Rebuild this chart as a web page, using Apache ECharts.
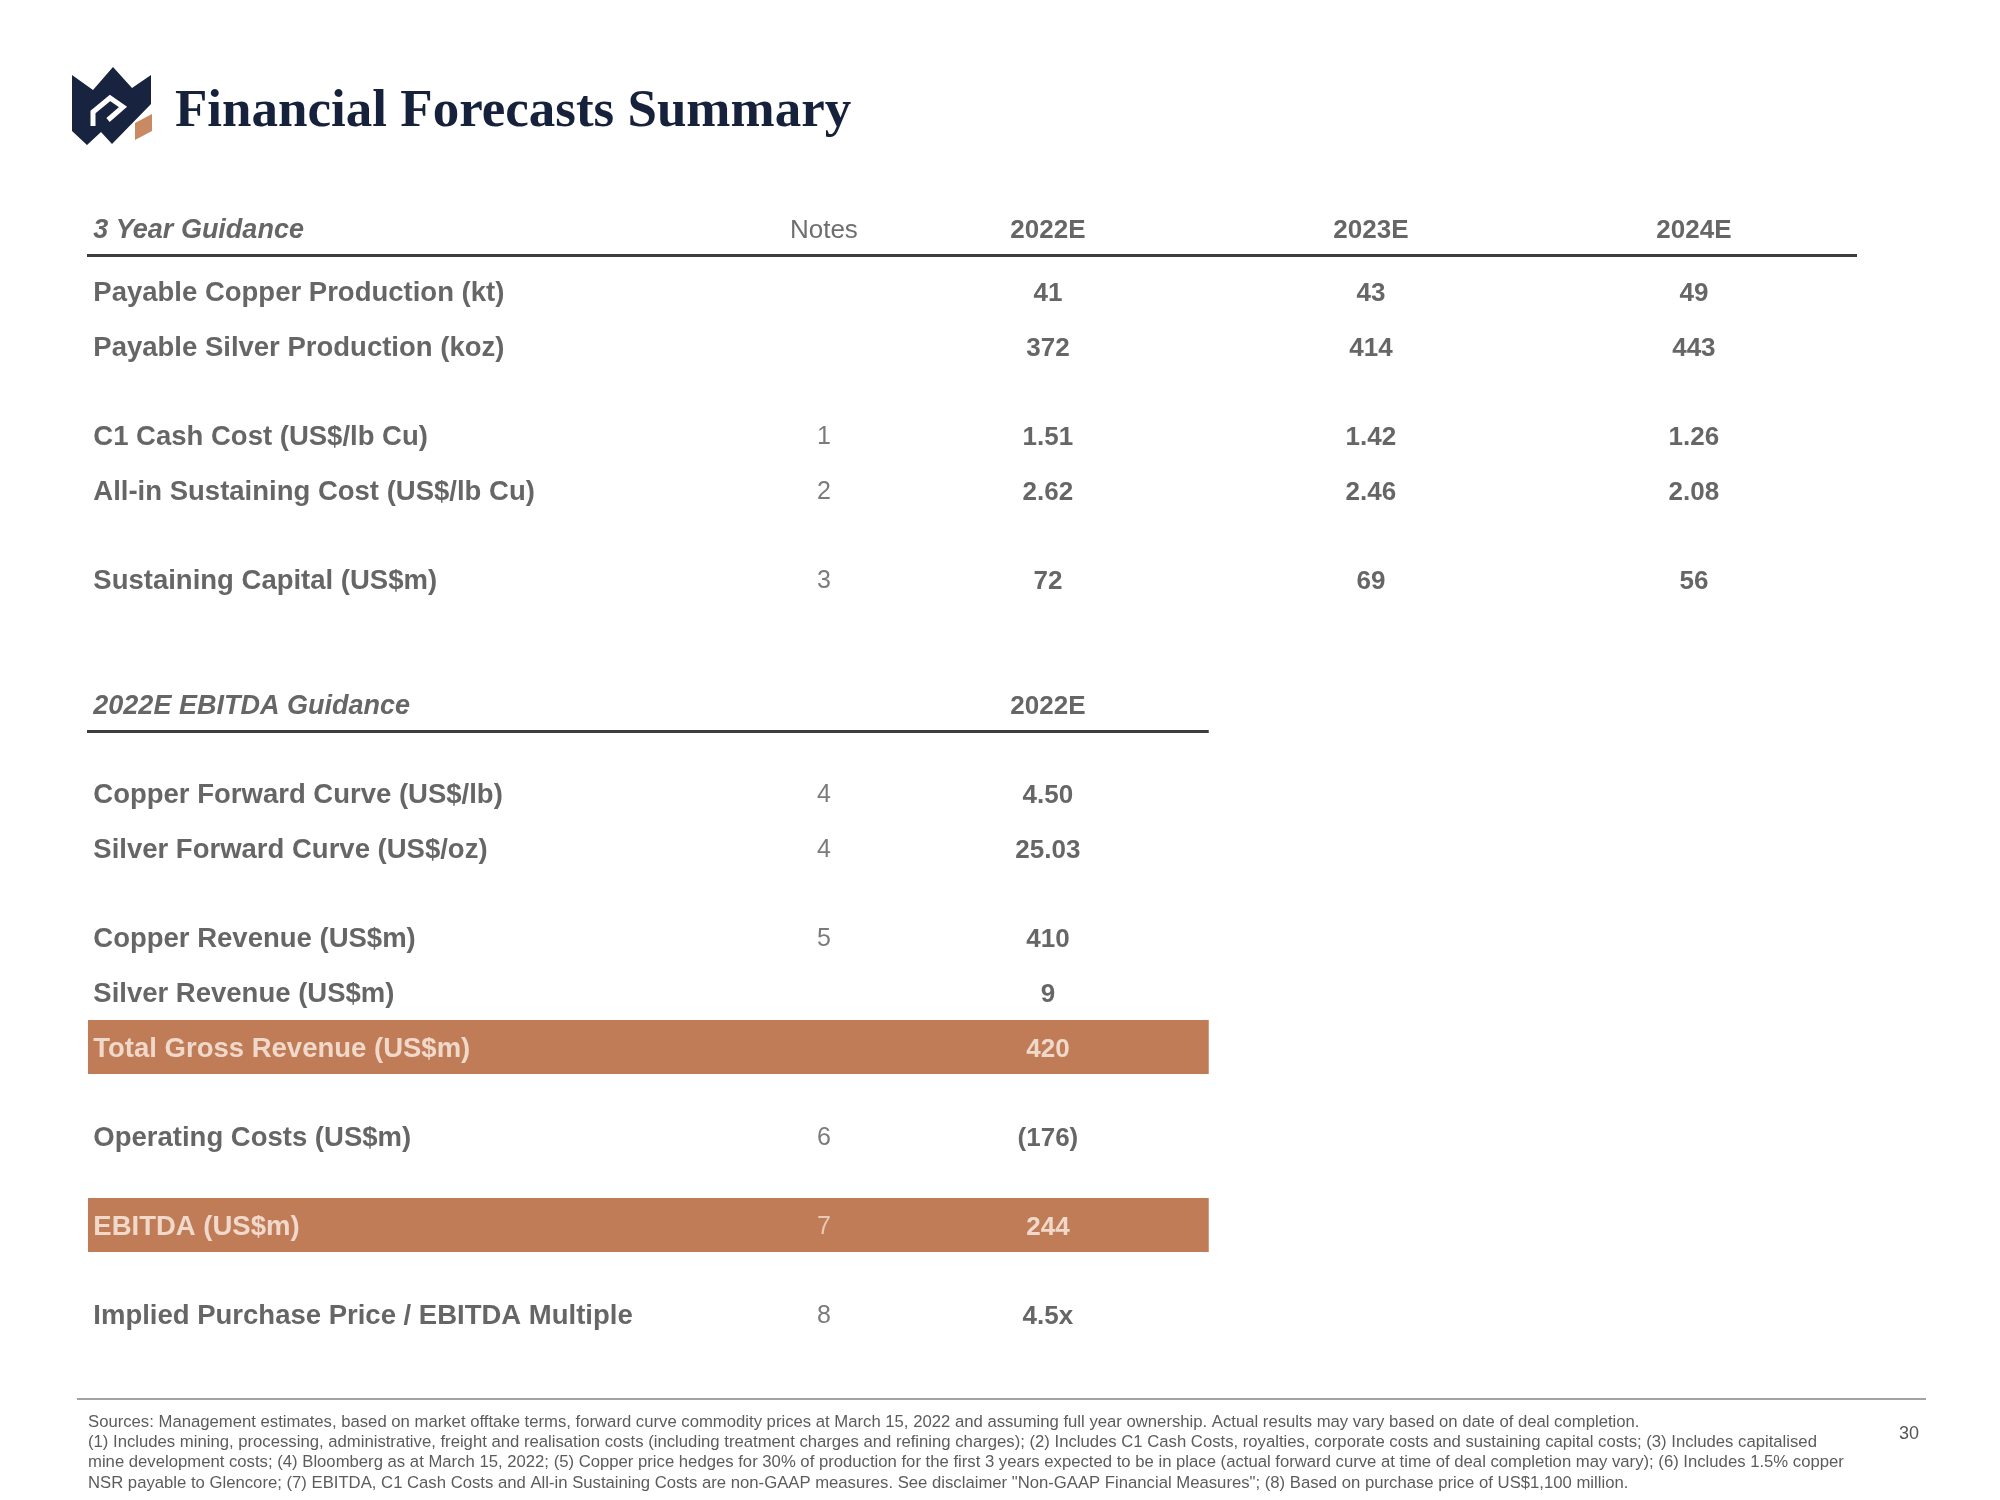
<!DOCTYPE html>
<html>
<head>
<meta charset="utf-8">
<style>
  html, body { margin: 0; padding: 0; background: #ffffff; }
  #chart { width: 2000px; height: 1500px; }
</style>
<script src="https://cdn.jsdelivr.net/npm/echarts@6/dist/echarts.min.js"></script>
</head>
<body>
<div id="chart"></div>
<script>
// ---------------- DATA ----------------
const pageTitle = 'Financial Forecasts Summary';
const years = ['2022E', '2023E', '2024E'];
const notesHeader = 'Notes';

const guidanceTitle = '3 Year Guidance';
const guidanceRows = [
  'Payable Copper Production (kt)',
  'Payable Silver Production (koz)',
  'C1 Cash Cost (US$/lb Cu)',
  'All-in Sustaining Cost (US$/lb Cu)',
  'Sustaining Capital (US$m)'
];
const guidanceNotes = ['', '', '1', '2', '3'];
const guidance2022E = [41, 372, 1.51, 2.62, 72];
const guidance2023E = [43, 414, 1.42, 2.46, 69];
const guidance2024E = [49, 443, 1.26, 2.08, 56];
const guidanceFormat = ['int', 'int', 'dec2', 'dec2', 'int'];
const guidanceGroups = [[0, 1], [2, 3], [4]];

const ebitdaTitle = '2022E EBITDA Guidance';
const ebitdaYear = ['2022E'];
const ebitdaRows = [
  'Copper Forward Curve (US$/lb)',
  'Silver Forward Curve (US$/oz)',
  'Copper Revenue (US$m)',
  'Silver Revenue (US$m)',
  'Total Gross Revenue (US$m)',
  'Operating Costs (US$m)',
  'EBITDA (US$m)',
  'Implied Purchase Price / EBITDA Multiple'
];
const ebitdaNotes = ['4', '4', '5', '', '', '6', '7', '8'];
const ebitda2022E = [4.50, 25.03, 410, 9, 420, -176, 244, 4.5];
const ebitdaFormat = ['dec2', 'dec2', 'int', 'int', 'int', 'paren', 'int', 'multiple'];
const ebitdaGroups = [[0, 1], [2, 3, 4], [5], [6], [7]];
const highlightRows = ['Total Gross Revenue (US$m)', 'EBITDA (US$m)'];

const footnotes = [
  'Sources: Management estimates, based on market offtake terms, forward curve commodity prices at March 15, 2022 and assuming full year ownership. Actual results may vary based on date of deal completion.',
  '(1) Includes mining, processing, administrative, freight and realisation costs (including treatment charges and refining charges); (2) Includes C1 Cash Costs, royalties, corporate costs and sustaining capital costs; (3) Includes capitalised',
  'mine development costs; (4) Bloomberg as at March 15, 2022; (5) Copper price hedges for 30% of production for the first 3 years expected to be in place (actual forward curve at time of deal completion may vary); (6) Includes 1.5% copper',
  'NSR payable to Glencore; (7) EBITDA, C1 Cash Costs and All-in Sustaining Costs are non-GAAP measures. See disclaimer "Non-GAAP Financial Measures"; (8) Based on purchase price of US$1,100 million.'
];
const pageNumber = '30';

// ---------------- LAYOUT (axis units: x = one year column, y = one row) ----------------
const L = {
  labelX: -2.957, notesX: -0.6935,
  ruleLeft: -2.975, rule1Right: 2.505, rule2Right: 0.498,
  bandLeft: -2.972, bandRight: 0.498, bandHalf: 0.49,
  t1Header: -1.145, t1Rule: -0.655, t1First: 0,
  t2Header: 7.51, t2Rule: 8.0, t2First: 9.127,
  gap: 1.618
};
function rowPositions(groups, start) {
  const pos = []; let y = start;
  groups.forEach((g, gi) => {
    g.forEach((r, ri) => {
      if (gi > 0 && ri === 0) y += L.gap;
      else if (ri > 0) y += 1;
      pos[r] = y;
    });
  });
  return pos;
}
const t1Y = rowPositions(guidanceGroups, L.t1First);
const t2Y = rowPositions(ebitdaGroups, L.t2First);

function fmt(v, kind) {
  if (kind === 'dec2') return v.toFixed(2);
  if (kind === 'paren') return v < 0 ? '(' + Math.abs(v) + ')' : String(v);
  if (kind === 'multiple') return v.toFixed(1) + 'x';
  return String(v);
}

// ---------------- STYLES ----------------
const DARK = '#404040';
const LIGHT = '#fbf0e7';
const SANS = '"Liberation Sans", Arial, sans-serif';
const TEXT_OFFSET = [0, 2.5];
const labelStyle = { fontFamily: SANS, fontSize: 27.5, fontWeight: 'bold', color: DARK, offset: TEXT_OFFSET };
const valueStyle = { fontFamily: SANS, fontSize: 26, fontWeight: 'bold', color: DARK, offset: TEXT_OFFSET };
const noteStyle = { fontFamily: SANS, fontSize: 25, fontWeight: 'normal', color: '#5a5a5a', offset: TEXT_OFFSET };

const leftItems = [], centerItems = [];
function addLeft(x, y, text, extra) { leftItems.push({ value: [x, y], text, label: Object.assign({}, labelStyle, extra || {}) }); }
function addCenter(x, y, text, style, extra) { centerItems.push({ value: [x, y], text, label: Object.assign({}, style, extra || {}) }); }

// Table 1 header
addLeft(L.labelX, L.t1Header, guidanceTitle, { fontStyle: 'italic', fontSize: 27 });
addCenter(L.notesX, L.t1Header, notesHeader, { fontFamily: SANS, fontSize: 26, color: '#4a4a4a', offset: TEXT_OFFSET });
years.forEach((yr, i) => addCenter(i, L.t1Header, yr, valueStyle));
// Table 1 body
const guidanceCols = [guidance2022E, guidance2023E, guidance2024E];
guidanceRows.forEach((name, r) => {
  addLeft(L.labelX, t1Y[r], name);
  if (guidanceNotes[r]) addCenter(L.notesX, t1Y[r], guidanceNotes[r], noteStyle);
  guidanceCols.forEach((col, c) => addCenter(c, t1Y[r], fmt(col[r], guidanceFormat[r]), valueStyle));
});
// Table 2 header
addLeft(L.labelX, L.t2Header, ebitdaTitle, { fontStyle: 'italic', fontSize: 27 });
ebitdaYear.forEach((yr, i) => addCenter(i, L.t2Header, yr, valueStyle));
// Table 2 body
ebitdaRows.forEach((name, r) => {
  const hl = highlightRows.indexOf(name) >= 0;
  addLeft(L.labelX, t2Y[r], name, hl ? { color: LIGHT } : null);
  if (ebitdaNotes[r]) addCenter(L.notesX, t2Y[r], ebitdaNotes[r], noteStyle, hl ? { color: '#f1dccd' } : null);
  addCenter(0, t2Y[r], fmt(ebitda2022E[r], ebitdaFormat[r]), valueStyle, hl ? { color: LIGHT } : null);
});

const bands = ebitdaRows.map((n, r) => highlightRows.indexOf(n) >= 0 ? r : -1).filter(r => r >= 0)
  .map(r => [{ coord: [L.bandLeft, t2Y[r] - L.bandHalf] }, { coord: [L.bandRight, t2Y[r] + L.bandHalf] }]);

const ruleStyle = { color: '#3d3d3d', width: 3, type: 'solid' };

const chart = echarts.init(document.getElementById('chart'), null, { renderer: 'canvas' });
chart.setOption({
  backgroundColor: '#ffffff',
  animation: false,
  grid: { left: 87, right: 143, top: 181, bottom: 109 },
  xAxis: { type: 'value', min: -2.975, max: 2.505, show: false },
  yAxis: { type: 'value', min: -2, max: 20, inverse: true, show: false },
  graphic: [
    // logo
    { type: 'polygon', shape: { points: [[72, 75], [93, 90], [113, 67], [132, 88], [151, 75], [151, 104], [112, 144], [101, 132], [87, 145], [72, 131]] }, style: { fill: '#17233f' } },
    { type: 'polyline', shape: { points: [[93, 126], [93, 112], [110, 98], [123, 107], [108, 120]] }, style: { stroke: '#ffffff', lineWidth: 5, fill: null } },
    { type: 'polygon', shape: { points: [[135, 123], [152, 114], [152, 131], [135, 140]] }, style: { fill: '#c98a63' } },
    // title
    { type: 'text', x: 175, y: 112, style: { text: pageTitle, font: 'bold 53px "Liberation Serif", "Times New Roman", serif', fill: '#16223c', textVerticalAlign: 'middle', verticalAlign: 'middle' } },
    // footer rule
    { type: 'line', shape: { x1: 77, y1: 1399, x2: 1926, y2: 1399 }, style: { stroke: '#a3a3a3', lineWidth: 2 } },
    ...footnotes.map((t, i) => ({ type: 'text', x: 88, y: 1422 + i * 20.4, style: { text: t, font: '16.7px "Liberation Sans", Arial, sans-serif', fill: '#5c5c5c', verticalAlign: 'middle', textVerticalAlign: 'middle' } })),
    { type: 'text', x: 1909, y: 1434, style: { text: pageNumber, font: '18px "Liberation Sans", Arial, sans-serif', fill: '#555555', align: 'center', textAlign: 'center', verticalAlign: 'middle', textVerticalAlign: 'middle' } }
  ],
  series: [
    {
      type: 'scatter', silent: true, z: 1, symbolSize: 0, data: [],
      markLine: {
        silent: true, symbol: 'none', label: { show: false }, lineStyle: ruleStyle,
        data: [
          [{ coord: [L.ruleLeft, L.t1Rule] }, { coord: [L.rule1Right, L.t1Rule] }],
          [{ coord: [L.ruleLeft, L.t2Rule] }, { coord: [L.rule2Right, L.t2Rule] }]
        ]
      },
      markArea: { silent: true, itemStyle: { color: '#c07c57' }, label: { show: false }, data: bands }
    },
    {
      type: 'scatter', silent: true, z: 5, symbolSize: 1, itemStyle: { color: 'rgba(0,0,0,0)' },
      label: { show: true, position: 'right', distance: 0, align: 'left', verticalAlign: 'middle', formatter: p => p.data.text },
      data: leftItems
    },
    {
      type: 'scatter', silent: true, z: 5, symbolSize: 1, itemStyle: { color: 'rgba(0,0,0,0)' },
      label: { show: true, position: 'inside', align: 'center', verticalAlign: 'middle', formatter: p => p.data.text },
      data: centerItems
    }
  ]
});
</script>
</body>
</html>
